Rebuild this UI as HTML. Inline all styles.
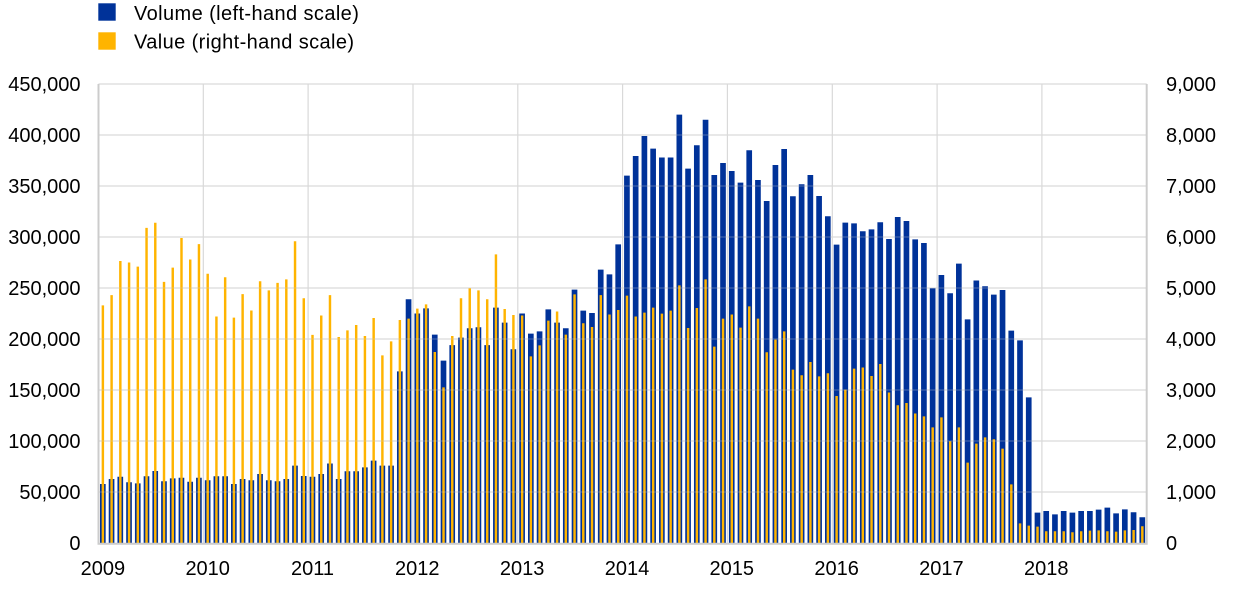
<!DOCTYPE html>
<html>
<head>
<meta charset="utf-8">
<style>
html,body{margin:0;padding:0;background:#fff;}
svg{display:block;}
text{font-family:"Liberation Sans",Arial,sans-serif;font-size:20px;fill:#000;}
.lg{letter-spacing:0.4px;}
</style>
</head>
<body>
<svg width="1240" height="589" viewBox="0 0 1240 589" xmlns="http://www.w3.org/2000/svg">
<!-- legend -->
<rect x="98.3" y="3.3" width="17.4" height="17.4" fill="#003299"/>
<text class="lg" x="134" y="20">Volume (left-hand scale)</text>
<rect x="98.3" y="32.3" width="17.4" height="17.4" fill="#FFB400"/>
<text class="lg" x="134" y="48.5">Value (right-hand scale)</text>

<!-- gridlines (behind) -->
<g stroke="#d9d9d9" stroke-width="1.2" fill="none">
<path d="M98.5 84H1146.7M98.5 135H1146.7M98.5 186H1146.7M98.5 237H1146.7M98.5 288H1146.7M98.5 339H1146.7M98.5 390H1146.7M98.5 441H1146.7M98.5 492H1146.7"/>
<path d="M203.3 84V543M308.1 84V543M413 84V543M517.8 84V543M622.6 84V543M727.4 84V543M832.3 84V543M937.1 84V543M1041.9 84V543"/>
</g>

<!-- bars -->
<g transform="translate(102.87,543) scale(8.735,-1.02)">
<path fill="#003299" d="M-.33 0h.65v57.8h-.65zM.67 0h.65v62.7h-.65zM1.67 0h.65v65h-.65zM2.67 0h.65v59.5h-.65zM3.67 0h.65v58.5h-.65zM4.67 0h.65v65.4h-.65zM5.67 0h.65v70.6h-.65zM6.67 0h.65v60.5h-.65zM7.67 0h.65v63.4h-.65zM8.67 0h.65v64h-.65zM9.67 0h.65v60h-.65zM10.67 0h.65v64h-.65zM11.67 0h.65v61.5h-.65zM12.67 0h.65v65.4h-.65zM13.67 0h.65v65.4h-.65zM14.67 0h.65v57.8h-.65zM15.67 0h.65v62.7h-.65zM16.67 0h.65v61.5h-.65zM17.67 0h.65v67.7h-.65zM18.67 0h.65v61.5h-.65zM19.67 0h.65v60.5h-.65zM20.67 0h.65v62.7h-.65zM21.67 0h.65v75.9h-.65zM22.67 0h.65v65.7h-.65zM23.67 0h.65v65h-.65zM24.67 0h.65v67.7h-.65zM25.67 0h.65v78h-.65zM26.67 0h.65v62.7h-.65zM27.67 0h.65v70.3h-.65zM28.67 0h.65v70.3h-.65zM29.67 0h.65v74.2h-.65zM30.67 0h.65v80.7h-.65zM31.67 0h.65v75.9h-.65zM32.67 0h.65v75.9h-.65zM33.67 0h.65v168.3h-.65zM34.67 0h.65v239h-.65zM35.67 0h.65v225h-.65zM36.67 0h.65v230h-.65zM37.67 0h.65v204.3h-.65zM38.67 0h.65v178.8h-.65zM39.67 0h.65v194h-.65zM40.67 0h.65v201.4h-.65zM41.67 0h.65v210.5h-.65zM42.67 0h.65v211.5h-.65zM43.67 0h.65v194h-.65zM44.67 0h.65v230.8h-.65zM45.67 0h.65v216h-.65zM46.67 0h.65v190h-.65zM47.67 0h.65v225h-.65zM48.67 0h.65v205.3h-.65zM49.67 0h.65v207.5h-.65zM50.67 0h.65v229h-.65zM51.67 0h.65v216h-.65zM52.67 0h.65v210.5h-.65zM53.67 0h.65v248.4h-.65zM54.67 0h.65v227.8h-.65zM55.67 0h.65v225.5h-.65zM56.67 0h.65v268h-.65zM57.67 0h.65v263.4h-.65zM58.67 0h.65v292.8h-.65zM59.67 0h.65v360.2h-.65zM60.67 0h.65v379.4h-.65zM61.67 0h.65v399h-.65zM62.67 0h.65v386.6h-.65zM63.67 0h.65v378h-.65zM64.67 0h.65v378h-.65zM65.67 0h.65v420h-.65zM66.67 0h.65v367h-.65zM67.67 0h.65v390h-.65zM68.67 0h.65v415h-.65zM69.67 0h.65v360.8h-.65zM70.67 0h.65v372.5h-.65zM71.67 0h.65v364.7h-.65zM72.67 0h.65v353.3h-.65zM73.67 0h.65v385h-.65zM74.67 0h.65v355.9h-.65zM75.67 0h.65v335.3h-.65zM76.67 0h.65v370.6h-.65zM77.67 0h.65v386.3h-.65zM78.67 0h.65v339.9h-.65zM79.67 0h.65v351.7h-.65zM80.67 0h.65v360.8h-.65zM81.67 0h.65v340.2h-.65zM82.67 0h.65v320.3h-.65zM83.67 0h.65v292.5h-.65zM84.67 0h.65v314.1h-.65zM85.67 0h.65v313.4h-.65zM86.67 0h.65v305.6h-.65zM87.67 0h.65v307.5h-.65zM88.67 0h.65v314.4h-.65zM89.67 0h.65v298h-.65zM90.67 0h.65v319.6h-.65zM91.67 0h.65v315.7h-.65zM92.67 0h.65v297.7h-.65zM93.67 0h.65v294.1h-.65zM94.67 0h.65v249.7h-.65zM95.67 0h.65v262.7h-.65zM96.67 0h.65v244.8h-.65zM97.67 0h.65v273.9h-.65zM98.67 0h.65v219.3h-.65zM99.67 0h.65v257.3h-.65zM100.67 0h.65v251.7h-.65zM101.67 0h.65v243.5h-.65zM102.67 0h.65v248h-.65zM103.67 0h.65v208.2h-.65zM104.67 0h.65v198.7h-.65zM105.67 0h.65v142.8h-.65zM106.67 0h.65v29.8h-.65zM107.67 0h.65v31.4h-.65zM108.67 0h.65v28.1h-.65zM109.67 0h.65v31.4h-.65zM110.67 0h.65v29.8h-.65zM111.67 0h.65v31.4h-.65zM112.67 0h.65v31.4h-.65zM113.67 0h.65v32.7h-.65zM114.67 0h.65v34.7h-.65zM115.67 0h.65v29.1h-.65zM116.67 0h.65v33h-.65zM117.67 0h.65v30.1h-.65zM118.67 0h.65v25.2h-.65z"/>
<path fill="#FFB400" d="M-.14 0h.28v233h-.28zM.86 0h.28v243h-.28zM1.86 0h.28v276.5h-.28zM2.86 0h.28v275h-.28zM3.86 0h.28v271h-.28zM4.86 0h.28v309h-.28zM5.86 0h.28v314h-.28zM6.86 0h.28v256h-.28zM7.86 0h.28v270h-.28zM8.86 0h.28v299h-.28zM9.86 0h.28v278h-.28zM10.86 0h.28v293h-.28zM11.86 0h.28v264h-.28zM12.86 0h.28v222h-.28zM13.86 0h.28v260.5h-.28zM14.86 0h.28v221h-.28zM15.86 0h.28v244h-.28zM16.86 0h.28v228h-.28zM17.86 0h.28v256.6h-.28zM18.86 0h.28v247.7h-.28zM19.86 0h.28v255h-.28zM20.86 0h.28v258.5h-.28zM21.86 0h.28v295.8h-.28zM22.86 0h.28v240h-.28zM23.86 0h.28v204h-.28zM24.86 0h.28v223h-.28zM25.86 0h.28v243h-.28zM26.86 0h.28v202h-.28zM27.86 0h.28v208.5h-.28zM28.86 0h.28v213.7h-.28zM29.86 0h.28v203h-.28zM30.86 0h.28v220.6h-.28zM31.86 0h.28v184h-.28zM32.86 0h.28v197.7h-.28zM33.86 0h.28v218.6h-.28zM34.86 0h.28v220h-.28zM35.86 0h.28v229.8h-.28zM36.86 0h.28v234h-.28zM37.86 0h.28v187.3h-.28zM38.86 0h.28v152.6h-.28zM39.86 0h.28v203h-.28zM40.86 0h.28v240h-.28zM41.86 0h.28v249.7h-.28zM42.86 0h.28v247.7h-.28zM43.86 0h.28v239h-.28zM44.86 0h.28v283h-.28zM45.86 0h.28v229.4h-.28zM46.86 0h.28v223.5h-.28zM47.86 0h.28v223h-.28zM48.86 0h.28v183h-.28zM49.86 0h.28v193.8h-.28zM50.86 0h.28v218h-.28zM51.86 0h.28v227h-.28zM52.86 0h.28v204.3h-.28zM53.86 0h.28v243.8h-.28zM54.86 0h.28v215.4h-.28zM55.86 0h.28v211.8h-.28zM56.86 0h.28v243h-.28zM57.86 0h.28v224h-.28zM58.86 0h.28v228.4h-.28zM59.86 0h.28v242.5h-.28zM60.86 0h.28v222h-.28zM61.86 0h.28v225.9h-.28zM62.86 0h.28v230.8h-.28zM63.86 0h.28v224.9h-.28zM64.86 0h.28v227.8h-.28zM65.86 0h.28v252.6h-.28zM66.86 0h.28v210.8h-.28zM67.86 0h.28v230.4h-.28zM68.86 0h.28v258.5h-.28zM69.86 0h.28v192.5h-.28zM70.86 0h.28v220h-.28zM71.86 0h.28v224h-.28zM72.86 0h.28v211.2h-.28zM73.86 0h.28v232h-.28zM74.86 0h.28v220h-.28zM75.86 0h.28v187h-.28zM76.86 0h.28v199.4h-.28zM77.86 0h.28v207.5h-.28zM78.86 0h.28v170h-.28zM79.86 0h.28v164.4h-.28zM80.86 0h.28v177.5h-.28zM81.86 0h.28v163.4h-.28zM82.86 0h.28v166.4h-.28zM83.86 0h.28v144.1h-.28zM84.86 0h.28v150.4h-.28zM85.86 0h.28v171h-.28zM86.86 0h.28v172h-.28zM87.86 0h.28v163.7h-.28zM88.86 0h.28v175.5h-.28zM89.86 0h.28v147.5h-.28zM90.86 0h.28v135h-.28zM91.86 0h.28v137.3h-.28zM92.86 0h.28v126.9h-.28zM93.86 0h.28v124.2h-.28zM94.86 0h.28v113.4h-.28zM95.86 0h.28v123.2h-.28zM96.86 0h.28v99.7h-.28zM97.86 0h.28v113.4h-.28zM98.86 0h.28v78.8h-.28zM99.86 0h.28v97.4h-.28zM100.86 0h.28v103.6h-.28zM101.86 0h.28v101.7h-.28zM102.86 0h.28v92.5h-.28zM103.86 0h.28v57.5h-.28zM104.86 0h.28v19.3h-.28zM105.86 0h.28v17h-.28zM106.86 0h.28v16.1h-.28zM107.86 0h.28v11.5h-.28zM108.86 0h.28v11.5h-.28zM109.86 0h.28v11.5h-.28zM110.86 0h.28v10.5h-.28zM111.86 0h.28v11.5h-.28zM112.86 0h.28v12.1h-.28zM113.86 0h.28v12.4h-.28zM114.86 0h.28v11.5h-.28zM115.86 0h.28v11.2h-.28zM116.86 0h.28v12.4h-.28zM117.86 0h.28v12.7h-.28zM118.86 0h.28v16.4h-.28z"/>
</g>

<!-- faint gridlines over bars -->
<g stroke="#d9d9d9" stroke-width="1" fill="none" opacity="0.35">
<path d="M98.5 135H1146.7M98.5 186H1146.7M98.5 237H1146.7M98.5 288H1146.7M98.5 339H1146.7M98.5 390H1146.7M98.5 441H1146.7M98.5 492H1146.7"/>
</g>

<!-- axes -->
<g stroke="#cccccc" stroke-width="2" fill="none">
<path d="M98.5 84V544M1146.7 84V544M97.5 543.7H1147.7"/>
</g>

<!-- left tick labels -->
<g text-anchor="end">
<text x="80.5" y="90.8">450,000</text>
<text x="80.5" y="141.8">400,000</text>
<text x="80.5" y="192.8">350,000</text>
<text x="80.5" y="243.8">300,000</text>
<text x="80.5" y="294.8">250,000</text>
<text x="80.5" y="345.8">200,000</text>
<text x="80.5" y="396.8">150,000</text>
<text x="80.5" y="447.8">100,000</text>
<text x="80.5" y="498.8">50,000</text>
<text x="80.5" y="549.8">0</text>
</g>

<!-- right tick labels -->
<g text-anchor="start">
<text x="1166" y="90.8">9,000</text>
<text x="1166" y="141.8">8,000</text>
<text x="1166" y="192.8">7,000</text>
<text x="1166" y="243.8">6,000</text>
<text x="1166" y="294.8">5,000</text>
<text x="1166" y="345.8">4,000</text>
<text x="1166" y="396.8">3,000</text>
<text x="1166" y="447.8">2,000</text>
<text x="1166" y="498.8">1,000</text>
<text x="1166" y="549.8">0</text>
</g>

<!-- year labels -->
<g text-anchor="middle">
<text x="102.9" y="575">2009</text>
<text x="207.7" y="575">2010</text>
<text x="312.5" y="575">2011</text>
<text x="417.3" y="575">2012</text>
<text x="522.1" y="575">2013</text>
<text x="627" y="575">2014</text>
<text x="731.8" y="575">2015</text>
<text x="836.6" y="575">2016</text>
<text x="941.4" y="575">2017</text>
<text x="1046.3" y="575">2018</text>
</g>
</svg>
</body>
</html>
